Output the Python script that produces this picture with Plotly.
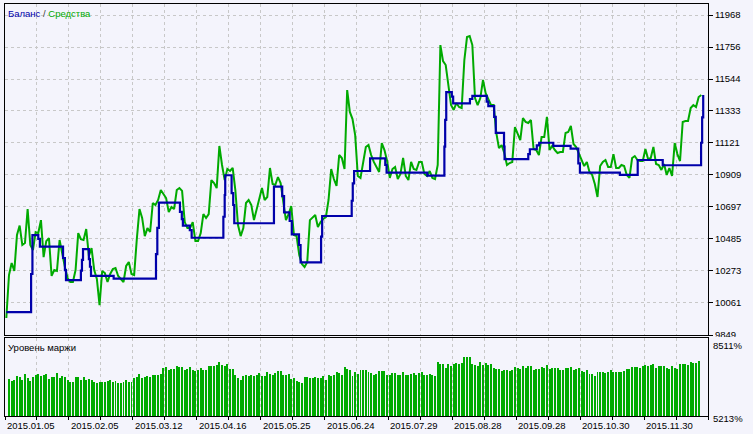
import plotly.graph_objects as go

# ---------------- data ----------------
equity = [9962, 10246, 10326, 10273, 10511, 10574, 10445, 10458, 10683, 10445,
          10412, 10531, 10524, 10610, 10365, 10471, 10491, 10240, 10279, 10273,
          10478, 10378, 10299, 10226, 10200, 10200, 10279, 10524, 10484, 10478,
          10551, 10372, 10425, 10279, 10220, 10047, 10273, 10259, 10200, 10253,
          10286, 10293, 10240, 10220, 10200, 10306, 10332, 10253, 10246, 10484,
          10683, 10624, 10504, 10557, 10531, 10723, 10710, 10743, 10809, 10783,
          10756, 10663, 10697, 10683, 10809, 10822, 10803, 10597, 10557, 10557,
          10597, 10471, 10471, 10524, 10650, 10624, 10650, 10875, 10855, 10822,
          11101, 10975, 10875, 10948, 10935, 10955, 10809, 10577, 10504, 10557,
          10723, 10743, 10710, 10610, 10677, 10743, 10822, 10743, 10763, 10955,
          10849, 10842, 10895, 10855, 10730, 10610, 10650, 10703, 10511, 10504,
          10378, 10319, 10299, 10332, 10610, 10624, 10644, 10564, 10597, 10617,
          10630, 10743, 10948, 10882, 10836, 11041, 11021, 10948, 11471, 11326,
          11279, 11173, 10902, 10889, 11008, 11094, 11107, 11041, 10995, 10962,
          10929, 11120, 11074, 11001, 10889, 10948, 10962, 10882, 10915, 11021,
          10902, 10875, 10995, 10948, 10942, 10995, 10995, 10915, 10902, 10935,
          10889, 10882, 10975, 11769, 11663, 11637, 11504, 11372, 11339, 11385,
          11359, 11352, 11670, 11822, 11829, 11769, 11418, 11372, 11418, 11538,
          11451, 11405, 11372, 11372, 11187, 11087, 11107, 11054, 10975, 10988,
          10995, 11226, 11187, 11140, 11286, 11260, 11253, 11273, 11081, 11074,
          11041, 11160, 11160, 11293, 11074, 11101, 11074, 11054, 11061, 11061,
          11187, 11193, 11233, 11114, 11094, 11054, 11008, 10968, 10995, 10929,
          10909, 10849, 10763, 10968, 10995, 11008, 10962, 10962, 11047, 10955,
          10955, 10975, 10968, 10909, 10889, 11021, 11034, 11008, 11001, 11001,
          11081, 11014, 11021, 11094, 10981, 10975, 10942, 10981, 10909, 10955,
          10902, 11120, 11047, 11001, 11260, 11266, 11266, 11352, 11372, 11359,
          11425, 11438]

balance_bars = [0, 9.3, 9.8, 12.0, 12.6, 21.3, 22.0, 22.4, 28.0, 28.4, 28.8,
                31.0, 31.4, 31.8, 40.3, 56.2, 56.7, 57.3, 65.2, 65.9, 66.3,
                68.9, 69.6, 81.5, 82.0, 82.2, 84.6, 85.2, 85.6, 100.5, 103.6,
                104.3, 106.4, 107.2, 109.9, 110.5, 118.2, 118.6, 129.7, 130.1,
                130.6, 136.6, 142.3, 142.8, 158.1, 164.5, 164.8, 165.2, 167.3,
                167.8, 174.1, 175.0, 180.4, 181.0, 183.2, 183.8, 186.9, 187.1,
                196.0, 196.6, 199.2, 200.1, 205.4, 211.9, 214.8, 215.4, 230.4,
                237.1, 246.5, 260.9, 261.3, 261.7]
balance_vals = [10000, 10253, 10511, 10485, 10434, 10359, 10279, 10213, 10275,
                10346, 10418, 10352, 10301, 10240, 10222, 10385, 10558, 10725,
                10665, 10617, 10573, 10544, 10493, 10632, 10776, 10907, 10789,
                10710, 10589, 10831, 10769, 10661, 10604, 10516, 10445, 10330,
                10500, 10637, 10738, 10853, 10935, 11019, 10975, 10924, 10904,
                11096, 11273, 11458, 11427, 11383, 11412, 11433, 11394, 11365,
                11294, 11188, 11096, 11014, 11047, 11079, 11105, 11122, 11102,
                11083, 10986, 10924, 10910, 11008, 10973, 11122, 11290, 11438]

margin_first_bar = 1
margin_level = [6763, 6693, 6735, 6904, 6848, 6735, 6989, 6820, 6693, 6848,
                6947, 6989, 6876, 6947, 6989, 6763, 6848, 6834, 7017, 6820,
                6904, 6848, 6707, 6651, 6651, 6848, 6848, 6735, 6848, 6735,
                6763, 6735, 6623, 6594, 6651, 6651, 6651, 6679, 6707, 6651,
                6679, 6594, 6594, 6623, 6735, 6651, 6623, 6806, 6848, 6989,
                6806, 6848, 6904, 6848, 6933, 6947, 6933, 6989, 7228, 7271,
                7158, 7186, 7186, 7327, 7271, 7271, 7130, 7186, 7271, 7158,
                7088, 7158, 7228, 7158, 7158, 7299, 7299, 7299, 7369, 7482,
                7369, 7327, 7412, 7186, 7200, 6947, 6806, 6707, 6876, 6947,
                6904, 6947, 6876, 6947,
                7017, 6905, 6905, 7060, 6975, 6947,
                7017, 7116, 7116, 6947, 6919, 6975, 6764, 6806, 6665, 6637,
                6594, 6834, 6834, 6806, 6806, 6834, 6806, 6806, 6876, 6735,
                6947, 6890, 6919, 7060, 7017, 6947, 7285, 7186, 7158, 6876,
                7060, 6975, 7158, 7158, 7158, 7060, 7017, 6947, 6975, 7116,
                7088, 7088, 6919, 6947, 7003, 7017, 6947, 6947, 7045, 6919,
                6919, 6975, 7017, 6947, 7017, 7060, 6947, 6947, 6975, 6919,
                6890, 7482, 7398, 7398, 7229, 7398, 7299, 7398, 7440, 7398,
                7426, 7680, 7680, 7680, 7398, 7370, 7299, 7482, 7370, 7440,
                7370, 7398, 7229, 7186, 7186, 7088, 7158, 7158,
                7115, 7157, 7270, 7228, 7200, 7327, 7228, 7298, 7327, 7157,
                7186, 7186, 7270, 7228, 7369, 7200, 7228, 7228, 7228, 7157,
                7157, 7228, 7228, 7270, 7157, 7186, 7228, 7087, 7045, 7129,
                6988, 6988, 6904, 7073, 7073, 7073, 7016, 7073, 7129, 7045,
                7073, 7073, 7045, 7101, 7186, 7186, 7270, 7270, 7270, 7228,
                7327, 7369, 7298, 7341, 7397, 7242, 7298, 7327, 7298, 7214,
                7186, 7298, 7228, 7186, 7397, 7397, 7397, 7355, 7482, 7439,
                7439, 7524]

date_labels = ["2015.01.05", "2015.02.05", "2015.03.12", "2015.04.16", "2015.05.25",
               "2015.06.24", "2015.07.29", "2015.08.28", "2015.09.28", "2015.10.30",
               "2015.11.30"]
date_bars = [0, 24, 48, 72, 96, 120, 144, 168, 192, 216, 240]
grid_step_bars = 12
total_bars = 264

balance_ticks = [9849, 10061, 10273, 10485, 10697, 10909, 11121, 11333, 11544, 11756, 11968]
balance_top = 12041
margin_ticks = [5213, 8511]
margin_tick_text = ["5213%", "8511%"]

# ---------------- style / layout ----------------
W, H = 753, 434
L, R, T, B = 5, 45, 4, 18
PH = H - T - B
BG = "#F4F4FC"
GREEN = "#00AA00"
BLUE = "#0000AA"
GRID = "#C8C8C8"
FONT = "Liberation Sans"
FS = 9.5

def py(px):  # pixel row -> paper fraction
    return (H - B - px) / PH

dom_main = [py(335), 1.0]
dom_margin = [0.0, py(337.5)]

xs = list(range(len(equity)))
mx = [margin_first_bar + i for i in range(len(margin_level))]
grid_vals = [-0.5 + grid_step_bars * k for k in range(total_bars // grid_step_bars + 1)]

fig = go.Figure()
fig.add_trace(go.Bar(x=mx, y=margin_level, width=0.74, marker=dict(color=GREEN, line=dict(width=0)),
                     xaxis="x", yaxis="y2", hoverinfo="skip"))
fig.add_trace(go.Scatter(x=xs, y=equity, mode="lines", line=dict(color=GREEN, width=2),
                         xaxis="x2", yaxis="y", hoverinfo="skip"))
fig.add_trace(go.Scatter(x=balance_bars, y=balance_vals, mode="lines", line_shape="hv",
                         line=dict(color=BLUE, width=2.2), xaxis="x2", yaxis="y", hoverinfo="skip"))

axis_common = dict(showline=True, linecolor="black", linewidth=1, mirror=True, zeroline=False)

fig.update_layout(
    width=W, height=H, margin=dict(l=L, r=R, t=T, b=B, pad=0),
    paper_bgcolor=BG, plot_bgcolor=BG, showlegend=False,
    font=dict(family=FONT, size=FS, color="black"),
    bargap=0,
    xaxis=dict(domain=[0, 1], anchor="y2", range=[-0.5, total_bars - 0.5],
               tickvals=grid_vals, showticklabels=False, ticks="outside", ticklen=3,
               tickcolor="black", showgrid=True, gridcolor=GRID, griddash="3px,3px",
               gridwidth=1, **axis_common),
    xaxis2=dict(domain=[0, 1], anchor="y", matches="x", tickvals=grid_vals,
                showticklabels=False, ticks="", showgrid=True, gridcolor=GRID,
                griddash="3px,3px", gridwidth=1, **axis_common),
    yaxis=dict(domain=dom_main, anchor="x2", side="right", range=[balance_ticks[0], balance_top],
               tickvals=balance_ticks, ticktext=[str(v) for v in balance_ticks],
               ticks="outside", ticklen=4, tickcolor="black", showgrid=True, gridcolor=GRID,
               griddash="3px,3px", gridwidth=1, tickfont=dict(family=FONT, size=FS, color="black"),
               **axis_common),
    yaxis2=dict(domain=dom_margin, anchor="x", side="right", range=margin_ticks,
                showticklabels=False, ticks="", showgrid=False, **axis_common),
)

# cover lower half of the bottom balance label like the reference
fig.add_shape(type="rect", xref="paper", yref="paper", x0=1 + 1.5 / (W - L - R), x1=1 + 44 / (W - L - R),
              y0=py(352), y1=py(337), fillcolor=BG, line=dict(width=0), layer="above")

ann = []
ann.append(dict(xref="paper", yref="paper", x=0, y=1, xanchor="left", yanchor="top",
                xshift=1, yshift=-2, showarrow=False,
                text=f'<span style="color:{BLUE}">Баланс</span> / <span style="color:{GREEN}">Средства</span>',
                font=dict(family=FONT, size=FS, color="#404040")))
ann.append(dict(xref="paper", yref="paper", x=0, y=dom_margin[1], xanchor="left", yanchor="top",
                xshift=1, yshift=-2, showarrow=False, text="Уровень маржи",
                font=dict(family=FONT, size=FS, color="black")))
ann.append(dict(xref="paper", yref="paper", x=1, y=dom_margin[1], xanchor="left", yanchor="top",
                xshift=3, yshift=0, showarrow=False, text=margin_tick_text[1],
                font=dict(family=FONT, size=FS, color="black")))
ann.append(dict(xref="paper", yref="paper", x=1, y=0, xanchor="left", yanchor="middle",
                xshift=3, yshift=-2, showarrow=False, text=margin_tick_text[0],
                font=dict(family=FONT, size=FS, color="black")))
for b, lab in zip(date_bars, date_labels):
    ann.append(dict(xref="x", yref="paper", x=b - 0.5, y=0, xanchor="left", yanchor="top",
                    xshift=0, yshift=-2, showarrow=False, text=lab,
                    font=dict(family=FONT, size=FS, color="black")))
fig.update_layout(annotations=ann)

fig.write_html("out.html", config={"displayModeBar": False, "staticPlot": True})
with open("out.html", "r", encoding="utf-8") as f:
    html = f.read()
html = html.replace("<head>", "<head><style>html,body{margin:0;padding:0;overflow:hidden;}</style>", 1)
with open("out.html", "w", encoding="utf-8") as f:
    f.write(html)
